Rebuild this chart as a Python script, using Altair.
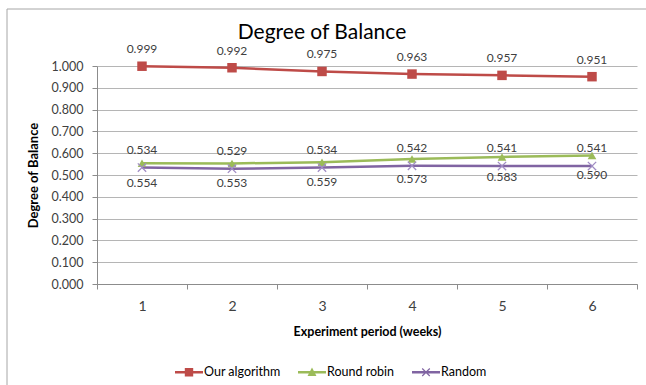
import altair as alt
import pandas as pd

# Experiment weeks and balance degree per allocation strategy
weeks = [1, 2, 3, 4, 5, 6]
series_names = ["Our algorithm", "Round robin", "Random"]
our_algorithm = [0.999, 0.992, 0.975, 0.963, 0.957, 0.951]
round_robin = [0.554, 0.553, 0.559, 0.573, 0.583, 0.590]
random_alloc = [0.534, 0.529, 0.534, 0.542, 0.541, 0.541]
y_ticks = [0.0, 0.1, 0.2, 0.3, 0.4, 0.5, 0.6, 0.7, 0.8, 0.9, 1.0]

colors = ["#BE4B48", "#9BBB59", "#8064A2"]
FONT = "Lato"
TEXT = "#404040"

rows = []
for name, vals in zip(series_names, [our_algorithm, round_robin, random_alloc]):
    for w, v in zip(weeks, vals):
        rows.append({"week": w, "series": name, "value": v, "label": f"{v:.3f}"})
df = pd.DataFrame(rows)

color_scale = alt.Scale(domain=series_names, range=colors)

# legend symbols: a short line segment with the series marker on top
legend_paths = [
    "M-1,-0.09H1V0.09H-1Z M-0.3,-0.3H0.3V0.3H-0.3Z",
    "M-1,-0.09H1V0.09H-1Z M0,-0.34L0.32,0.26H-0.32Z",
    "M-1,-0.09H1V0.09H-1Z "
    "M-0.3,-0.24L-0.24,-0.3L0.3,0.24L0.24,0.3Z "
    "M0.24,-0.3L0.3,-0.24L-0.24,0.3L-0.3,0.24Z",
]

legend_spec = alt.Legend(
    title=None, orient="none", direction="horizontal",
    legendX=78, legendY=292,
    symbolSize=784, symbolStrokeWidth=0, symbolOpacity=1,
    labelFont=FONT, labelFontSize=12.5, labelColor="#000000",
    labelOffset=1, columnPadding=17,
)

x_axis = alt.Axis(title="Experiment period (weeks)", tickBand="extent")
y_axis = alt.Axis(title="Degree of Balance", values=y_ticks, format=".3f", labelOverlap=False)
x_scale = alt.Scale(type="band", paddingInner=0, paddingOuter=0)
y_scale = alt.Scale(domain=[0, 1])

x_enc = alt.X("week:O", scale=x_scale, axis=x_axis)
y_enc = alt.Y("value:Q", scale=y_scale, axis=y_axis)

base = alt.Chart(df)

lines = base.mark_line(strokeWidth=2.5).encode(
    x=x_enc, y=y_enc,
    color=alt.Color("series:N", scale=color_scale, legend=legend_spec),
)

def markers(name, **kw):
    return base.transform_filter(alt.datum.series == name).mark_point(opacity=1, **kw).encode(
        x=x_enc, y=y_enc
    )

pts_our = markers("Our algorithm", shape="square", filled=True, size=90, color=colors[0])
pts_rr = markers("Round robin", shape="triangle-up", filled=True, size=75, color=colors[1])
pts_rnd = markers("Random", shape="M-1,-1L1,1M1,-1L-1,1", filled=False, size=70,
                  strokeWidth=1.3, color="#A08CC4")

legend_layer = base.transform_filter("false").mark_point(filled=True, opacity=1).encode(
    x=x_enc, y=y_enc,
    color=alt.Color("series:N", scale=color_scale, legend=legend_spec),
    shape=alt.Shape("series:N", scale=alt.Scale(domain=series_names, range=legend_paths),
                    legend=legend_spec),
)

def labels(name, dy):
    return base.transform_filter(alt.datum.series == name).mark_text(
        dy=dy, font=FONT, fontSize=12, color=TEXT, baseline="middle"
    ).encode(x=x_enc, y=y_enc, text="label:N")

lab_our = labels("Our algorithm", -17)
lab_rnd = labels("Random", -18)
lab_rr = labels("Round robin", 20)

one = pd.DataFrame({"title": ["Degree of Balance"]})

frame = alt.Chart(one).mark_rect(
    fillOpacity=0, stroke="#A6A6A6", strokeWidth=1
).encode(
    x=alt.value(-90), x2=alt.value(560), y=alt.value(-57), y2=alt.value(330)
)

heading = alt.Chart(one).mark_text(
    font=FONT, fontSize=21, color="#000000", baseline="middle", align="center"
).encode(x=alt.value(225), y=alt.value(-33), text="title:N")

chart = alt.layer(
    frame, lines, pts_our, pts_rr, pts_rnd, legend_layer, lab_our, lab_rnd, lab_rr, heading
).properties(
    width=540,
    height=218,
    padding={"left": 97, "top": 66, "right": 9, "bottom": 101},
    autosize=alt.AutoSizeParams(type="none"),
    background="white",
).configure_view(
    stroke=None
).configure_axis(
    labelFont=FONT, titleFont=FONT, labelColor=TEXT, titleColor="#000000",
    titleFontWeight="bold", tickColor="#8C8C8C", domainColor="#8C8C8C", tickSize=5,
    gridColor="#B5B5B5", gridWidth=1,
).configure_axisY(
    labelFontSize=12.5, labelPadding=9, titleFontSize=13, titlePadding=11, grid=True,
).configure_axisX(
    labelFontSize=14, labelPadding=10, titleFontSize=12.5, titlePadding=12,
    grid=False, labelAngle=0,
)

chart.save("out.html", embed_options={"renderer": "svg", "actions": False})
